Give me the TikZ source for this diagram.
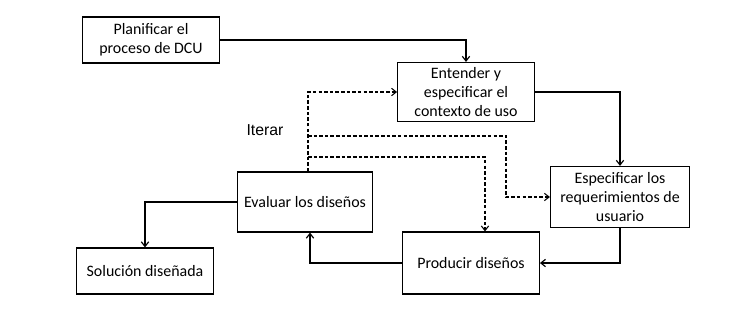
\documentclass[tikz,border=0pt]{standalone}
\usepackage{fontspec}
\setmainfont{Carlito}
\newfontfamily\arialfont{Liberation Sans}
\usepackage{tikz}
\usetikzlibrary{positioning, arrows.meta}

\begin{document}
\begin{tikzpicture}[
    x=0.03cm, y=-0.03cm,
    line width=1pt,
    >={Straight Barb[length=1.4mm, width=2.2mm]},
    caja/.style={rectangle, draw, minimum width=4.1cm, align=center, inner sep=1pt, font=\fontsize{13.6}{16}\selectfont},
    iter/.style={->, dash pattern=on 3pt off 1.8pt, line width=0.9pt}
]
    \useasboundingbox (0,0) rectangle (731,327);

    % Cajas
    \node[caja, minimum height=1.38cm] (plan) at (151,40) {Planificar el\\proceso de DCU};
    \node[caja, minimum height=1.77cm] (ctx) at (466,92) {Entender y\\especificar el\\contexto de uso};
    \node[caja, minimum height=1.83cm, minimum width=4.17cm] (req) at (620,197) {Especificar los\\requerimientos de\\usuario};
    \node[caja, minimum height=1.86cm] (prod) at (471,263) {Producir diseños};
    \node[caja, minimum height=1.8cm, minimum width=4.05cm] (eval) at (305,202) {Evaluar los diseños};
    \node[caja, minimum height=1.38cm] (sol) at (145,271) {Solución diseñada};
    \node[font=\arialfont\fontsize{13.5}{15}\selectfont] (iterar) at (265,130) {Iterar};

    % Flechas
    \draw[->] (plan.east) -| (ctx.north);
    \draw[->] (ctx.east) -| (req.north);
    \draw[->] (req.south) |- (prod.east);
    \draw[->] (prod.west) -| ([xshift=5*0.03cm]eval.south);
    \draw[->] (eval.west) -| (sol.north);

    % Iteraciones
    \coordinate (e0) at ([xshift=3*0.03cm]eval.north);
    \coordinate (e1) at (308,136);
    \coordinate (e2) at (308,157);
    \draw[iter] (e0) |- (ctx.west);
    \draw[iter] (e1) -| (506,197) -- (req.west);
    \draw[iter] (e2) -| ([xshift=14*0.03cm]prod.north);

\end{tikzpicture}
\end{document}
